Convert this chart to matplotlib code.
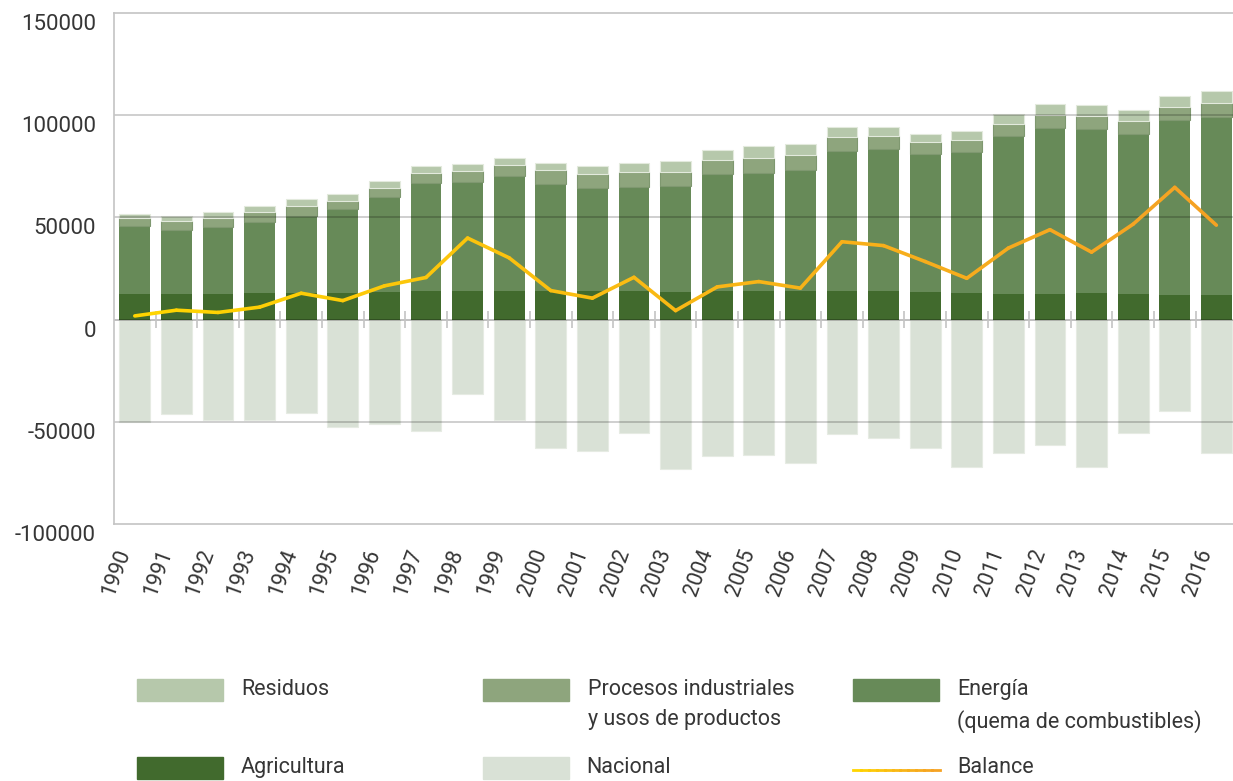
import matplotlib
matplotlib.use('Agg')
import matplotlib.pyplot as plt
import matplotlib.transforms as mtransforms
import numpy as np
from matplotlib.collections import LineCollection
from matplotlib.colors import LinearSegmentedColormap
from matplotlib.patches import Rectangle

plt.rcParams['font.family'] = ['Roboto', 'DejaVu Sans']

years = [str(y) for y in range(1990, 2017)]

# emissions by sector (stacked, positive)
agricultura = [12300, 12300, 12300, 13200, 13200, 13200, 13700, 14200, 13900, 14200,
               14200, 14200, 13900, 13700, 14200, 14200, 13900, 14200, 13900, 13400,
               13200, 12600, 12700, 13200, 12400, 12100, 11800]
energia = [33300, 31700, 32800, 34700, 37300, 40900, 46100, 52800, 53300, 55900,
           52300, 50200, 51000, 51500, 56900, 57700, 59100, 68300, 69800, 67800,
           68800, 77000, 80900, 79900, 78600, 85400, 87400]
procesos = [3900, 4000, 4400, 4500, 4900, 3700, 4400, 4900, 5300, 5400,
            6500, 6700, 7200, 7200, 6800, 7400, 7500, 6600, 6300, 5500,
            5700, 6300, 6700, 6400, 6000, 6400, 6700]
residuos = [2400, 2800, 3300, 3000, 3400, 3800, 3600, 3400, 3800, 3800,
            3800, 3900, 4300, 5000, 4900, 5500, 5300, 5000, 4200, 4300,
            4400, 4600, 5100, 5400, 5400, 5700, 5800]
# absorptions (negative)
nacional = [-50100, -46200, -49300, -49300, -45900, -52300, -51300, -54700, -36400, -49100,
            -62600, -64500, -55700, -73000, -66800, -66200, -70400, -56000, -58000, -62600,
            -71900, -65500, -61400, -71900, -55700, -44900, -65500]

agricultura = np.array(agricultura)
energia = np.array(energia)
procesos = np.array(procesos)
residuos = np.array(residuos)
nacional = np.array(nacional)
balance = agricultura + energia + procesos + residuos + nacional

c_res = '#b6c8ab'
c_proc = '#8ea57d'
c_ene = '#678a58'
c_agr = '#416a2d'
c_nac = '#d9e1d6'
txt_col = '#363636'
line_cmap = LinearSegmentedColormap.from_list('bal', ['#ffd500', '#f9b814', '#f5a223'])

fig = plt.figure(figsize=(12.33, 7.81), dpi=100)
ax = fig.add_axes([114 / 1233, 1 - 524 / 781, 1 - 114 / 1233, (524 - 13) / 781])

x = np.arange(len(years))
w = 0.74
ax.bar(x, nacional, w, color=c_nac, edgecolor='#e6ebe3', linewidth=0.8, zorder=1)
ax.bar(x, agricultura, w, color=c_agr, zorder=1)
b1 = agricultura
ax.bar(x, energia, w, bottom=b1, color=c_ene, linewidth=0, zorder=1)
b2 = b1 + energia
ax.bar(x, procesos, w, bottom=b2, color=c_proc, edgecolor='#7f9870', linewidth=0.8, zorder=1)
b3 = b2 + procesos
ax.bar(x, residuos, w, bottom=b3, color=c_res, edgecolor='#e3eadd', linewidth=0.8, zorder=1)

# gridlines over bars
for v in [-50000, 50000, 100000]:
    ax.axhline(v, color=(0, 0, 0, 0.22), lw=1.2, zorder=2)
ax.axhline(0, color=(0, 0, 0, 0.25), lw=1.4, zorder=2)
ax.vlines(x[:-1] + 0.5, -4000, 4000, color='#c4c4c4', lw=1.2, zorder=2)

# balance line with yellow -> orange gradient
pts = np.column_stack([x, balance])
segs = np.stack([pts[:-1], pts[1:]], axis=1)
lc = LineCollection(segs, colors=line_cmap(np.linspace(0, 1, len(segs))), linewidths=2.6,
                    capstyle='round', joinstyle='round', zorder=3)
ax.add_collection(lc)

ax.set_xlim(-0.5, 26.4)
ax.set_ylim(-100000, 150000)
ax.set_yticks([-100000, -50000, 0, 50000, 100000, 150000])
ax.set_yticklabels(['-100000', '-50000', '0', '50000', '100000', '150000'])
ax.set_xticks(x)
ax.set_xticklabels(years, rotation=70, ha='right', va='top')
ax.tick_params(axis='y', length=0, pad=13, labelsize=16, labelcolor=txt_col)
ax.tick_params(axis='x', length=0, pad=16, labelsize=15.5, labelcolor=txt_col)
offset = mtransforms.ScaledTranslation(0, -9 / 100, fig.dpi_scale_trans)
for lab in ax.get_yticklabels():
    lab.set_transform(lab.get_transform() + offset)

for s in ['left', 'top', 'bottom']:
    ax.spines[s].set_color('#c4c4c4')
    ax.spines[s].set_linewidth(1.2)
ax.spines['right'].set_visible(False)

# legend drawn by hand
W, H = 1233, 781


def patch(px, py, color):
    fig.add_artist(Rectangle((px / W, 1 - (py + 11) / H), 86 / W, 22 / H,
                             transform=fig.transFigure, color=color))


def label(px, py, txt):
    fig.text(px / W, 1 - py / H, txt, ha='left', va='top', fontsize=15.5,
             color=txt_col, linespacing=1.55)


patch(137, 690, c_res)
label(241, 679, 'Residuos')
patch(483, 690, c_proc)
label(588, 679, 'Procesos industriales\ny usos de productos')
patch(853, 690, c_ene)
label(957, 679, 'Energía\n(quema de combustibles)')
patch(137, 768, c_agr)
label(241, 757, 'Agricultura')
patch(483, 768, c_nac)
label(586, 757, 'Nacional')
lx = np.linspace(853 / W, 940 / W, 12)
lsegs = [[(lx[i], 1 - 770 / H), (lx[i + 1], 1 - 770 / H)] for i in range(len(lx) - 1)]
fig.add_artist(LineCollection(lsegs, colors=line_cmap(np.linspace(0, 1, len(lsegs))),
                              linewidths=2, capstyle='projecting', transform=fig.transFigure))
label(957, 757, 'Balance')

fig.savefig('out.png', dpi=100)
